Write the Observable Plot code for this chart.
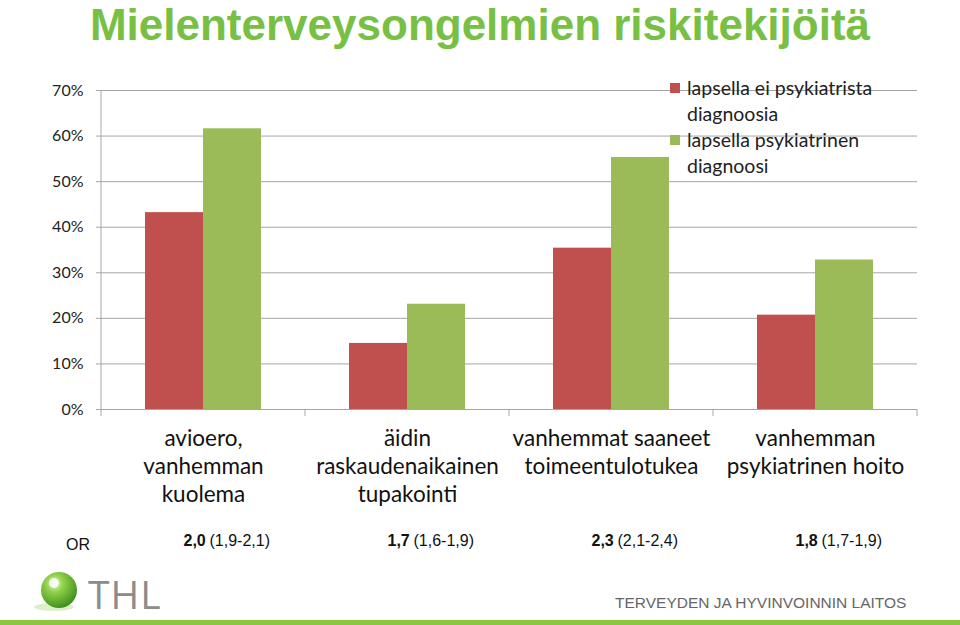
<!DOCTYPE html>
<html>
<head>
<meta charset="utf-8">
<script src="https://cdn.jsdelivr.net/npm/d3@7"></script>
<script src="https://cdn.jsdelivr.net/npm/@observablehq/plot@0.6"></script>
<style>
  html, body { margin: 0; padding: 0; background: #fff; }
  #page { position: relative; width: 960px; height: 625px; overflow: hidden; }
  #title { position: absolute; left: 0; top: 0; width: 960px; text-align: center;
    font-family: "Liberation Sans", Arial, sans-serif;
    font-weight: bold; font-size: 44px; line-height: normal; color: #78c043; }
  #chart { position: absolute; left: 0; top: 60px; }
  #legend { position: absolute; left: 670px; top: 75px; font-family: Lato, sans-serif;
    font-size: 19.5px; line-height: 26px; color: #222; }
  .li { position: relative; padding-left: 17px; }
  .sw { position: absolute; left: 0; top: 8px; width: 10px; height: 10px; }
  #or { position: absolute; left: 66px; top: 536px; font-family: "Liberation Sans", Arial, sans-serif;
    font-size: 16px; color: #111; }
  #thl { position: absolute; left: 88px; top: 567px; font-family: "Open Sans", sans-serif; font-size: 39px;
    color: #8c8c8c; letter-spacing: 1px; }
  #laitos { position: absolute; left: 615px; top: 594px; font-family: "Liberation Sans", Arial, sans-serif;
    font-size: 15.5px; color: #666; }
  #bar { position: absolute; left: 0; top: 620px; width: 960px; height: 5px; background: #8cc63f; }
  #logo { position: absolute; left: 32px; top: 570px; }
</style>
</head>
<body>
<div id="page">
  <div id="title">Mielenterveysongelmien riskitekijöitä</div>
  <div id="chart"></div>
  <div id="legend"></div>
  <div id="or">OR</div>
  <svg id="logo" width="52" height="44" viewBox="0 0 52 44">
    <defs>
      <radialGradient id="g1" cx="0.38" cy="0.32" r="0.7">
        <stop offset="0" stop-color="#e8f7c8"/>
        <stop offset="0.35" stop-color="#8fd14a"/>
        <stop offset="1" stop-color="#3f8f1c"/>
      </radialGradient>
    </defs>
    <ellipse cx="22" cy="37" rx="20" ry="4" fill="#cfe8b0" opacity="0.7"/>
    <circle cx="27" cy="20" r="18" fill="url(#g1)"/>
    <circle cx="22" cy="13" r="5" fill="#ffffff" opacity="0.85"/>
  </svg>
  <div id="thl">THL</div>
  <div id="laitos">TERVEYDEN JA HYVINVOINNIN LAITOS</div>
  <div id="bar"></div>
</div>
<script>
const categories = ["avioero,\nvanhemman\nkuolema", "äidin\nraskaudenaikainen\ntupakointi", "vanhemmat saaneet\ntoimeentulotukea", "vanhemman\npsykiatrinen hoito"];
const series = ["lapsella ei psykiatrista diagnoosia", "lapsella psykiatrinen diagnoosi"];
const seriesLegend = ["lapsella ei psykiatrista<br>diagnoosia", "lapsella psykiatrinen<br>diagnoosi"];
const noDiagnosis = [43.2, 14.5, 35.4, 20.7];
const withDiagnosis = [61.6, 23.1, 55.3, 32.8];
const orValue = ["2,0", "1,7", "2,3", "1,8"];
const orCI = ["(1,9-2,1)", "(1,6-1,9)", "(2,1-2,4)", "(1,7-1,9)"];
const yTicks = [0, 10, 20, 30, 40, 50, 60, 70];
const colors = ["#c0504d", "#9bbb59"];

const rows = [];
categories.forEach((c, i) => {
  rows.push({cat: c, series: series[0], value: noDiagnosis[i]});
  rows.push({cat: c, series: series[1], value: withDiagnosis[i]});
});
const orRows = categories.map((c, i) => ({cat: c, v: orValue[i], ci: orCI[i]}));

const gridColor = "#a6a6a6";
const chart = Plot.plot({
  width: 960,
  height: 510,
  marginTop: 30,
  marginLeft: 100,
  marginRight: 42,
  marginBottom: 161,
  fx: {domain: categories, padding: 0, axis: null},
  x: {domain: series, paddingInner: 0, paddingOuter: 0.75, axis: null},
  y: {domain: [0, 70], axis: null},
  color: {domain: series, range: colors},
  style: {fontFamily: "Lato, sans-serif", color: "#111", overflow: "visible"},
  marks: [
    Plot.gridY(yTicks, {stroke: gridColor, strokeOpacity: 1}),
    Plot.axisY(yTicks, {tickFormat: d => d + "%", tickSize: 5, tickPadding: 13, stroke: gridColor,
      fontSize: 16, fill: "#222", label: null}),
    Plot.barY(rows, {fx: "cat", x: "series", y: "value", fill: "series"}),
    Plot.ruleY([0], {stroke: gridColor}),
    Plot.text(categories, {fx: d => d, text: d => d, frameAnchor: "bottom", lineAnchor: "top",
      dy: 17, fontSize: 22.5, lineHeight: 1.244, fill: "#111"}),
    Plot.text(orRows, {fx: "cat", text: "v", frameAnchor: "bottom", textAnchor: "start", dx: -20, dy: 136,
      fontSize: 16, fontWeight: "bold", fontFamily: "'Liberation Sans', Arial, sans-serif", fill: "#111"}),
    Plot.text(orRows, {fx: "cat", text: "ci", frameAnchor: "bottom", textAnchor: "start", dx: 6, dy: 136,
      fontSize: 16, fontFamily: "'Liberation Sans', Arial, sans-serif", fill: "#111"})
  ]
});
document.getElementById("chart").appendChild(chart);

// axis line and category boundary ticks from the library's scales
const fxS = chart.scale("fx"), yS = chart.scale("y");
const svg = d3.select(chart);
const x0 = fxS.apply(categories[0]);
const bounds = categories.map(c => fxS.apply(c)).concat([fxS.apply(categories[categories.length - 1]) + fxS.bandwidth]);
svg.append("line").attr("x1", x0).attr("x2", x0).attr("y1", yS.apply(70)).attr("y2", yS.apply(0))
  .attr("stroke", gridColor);
bounds.forEach(b => {
  svg.append("line").attr("x1", b).attr("x2", b).attr("y1", yS.apply(0)).attr("y2", yS.apply(0) + 7)
    .attr("stroke", gridColor);
});

// legend
const lg = document.getElementById("legend");
series.forEach((s, i) => {
  const d = document.createElement("div");
  d.className = "li";
  d.innerHTML = `<span class="sw" style="background:${colors[i]}"></span>${seriesLegend[i]}`;
  lg.appendChild(d);
});
</script>
</body>
</html>
